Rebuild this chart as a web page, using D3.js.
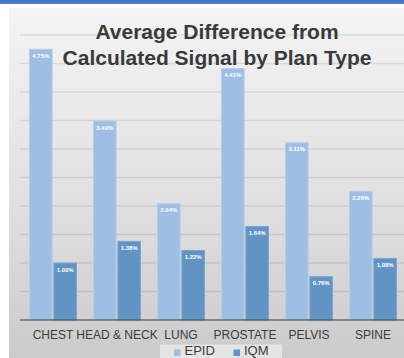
<!DOCTYPE html>
<html>
<head>
<meta charset="utf-8">
<script src="https://cdn.jsdelivr.net/npm/d3@7"></script>
<style>
  html, body { margin: 0; padding: 0; background: #ffffff; overflow: hidden; }
  svg { display: block; }
  text { font-family: "Liberation Sans", Arial, Helvetica, sans-serif; }
</style>
</head>
<body>
<svg id="chart" width="404" height="358"></svg>
<script>
// Plan types along the x axis
const categories = ["CHEST", "HEAD & NECK", "LUNG", "PROSTATE", "PELVIS", "SPINE"];
// Average difference from calculated signal, in percent
const epidValues = [4.75, 3.49, 2.04, 4.41, 3.11, 2.26];
const iqmValues = [1.00, 1.38, 1.22, 1.64, 0.76, 1.08];
const seriesNames = ["EPID", "IQM"];
const gridTicks = [0.5, 1, 1.5, 2, 2.5, 3, 3.5, 4, 4.5, 5];
const titleLines = ["Average Difference from", "Calculated Signal by Plan Type"];

const colors = { EPID: "#9fbee4", IQM: "#6294c3" };
const strokes = { EPID: "#b4cdee", IQM: "#7aa7d3" };

const svg = d3.select("#chart");
const W = 404, H = 358;

const defs = svg.append("defs");
const bg = defs.append("linearGradient").attr("id", "panelBg")
  .attr("x1", 0).attr("y1", 0).attr("x2", 0).attr("y2", 1);
bg.append("stop").attr("offset", "0%").attr("stop-color", "#f4f4f4");
bg.append("stop").attr("offset", "55%").attr("stop-color", "#e0e0e0");
bg.append("stop").attr("offset", "100%").attr("stop-color", "#cbcbcb");

const topBar = defs.append("linearGradient").attr("id", "topBar")
  .attr("x1", 0).attr("y1", 0).attr("x2", 0).attr("y2", 1);
topBar.append("stop").attr("offset", "0%").attr("stop-color", "#3f6fc4");
topBar.append("stop").attr("offset", "100%").attr("stop-color", "#5b86d0");

// Slide header strip and chart panel
svg.append("rect").attr("x", 0).attr("y", 0).attr("width", W).attr("height", 4)
  .attr("fill", "url(#topBar)");
svg.append("rect").attr("x", 9).attr("y", 8).attr("width", W - 9).attr("height", H - 8)
  .attr("fill", "url(#panelBg)");

// Scales
const x = d3.scaleBand().domain(categories).range([21, 405])
  .paddingInner(0.25).paddingOuter(0.125);
const xSub = d3.scaleBand().domain(seriesNames).range([0, x.bandwidth()]).paddingInner(0.03);
const y = d3.scaleLinear().domain([0, 5]).range([320, 35]);

// Gridlines
svg.append("g").selectAll("line").data(gridTicks).join("line")
  .attr("x1", 20).attr("x2", W)
  .attr("y1", d => y(d)).attr("y2", d => y(d))
  .attr("stroke", "#000").attr("stroke-opacity", 0.09).attr("stroke-width", 1.5);

// Title
svg.append("g").selectAll("text").data(titleLines).join("text")
  .attr("x", 217).attr("y", (d, i) => 38.5 + i * 26.5)
  .attr("text-anchor", "middle")
  .attr("font-size", 21).attr("font-weight", "bold").attr("fill", "#3a3a3a")
  .text(d => d);

// Bars
const rows = categories.map((c, i) => ({ cat: c, EPID: epidValues[i], IQM: iqmValues[i] }));
const groups = svg.append("g").selectAll("g").data(rows).join("g")
  .attr("transform", d => `translate(${x(d.cat)},0)`);

const bars = groups.selectAll("g.bar")
  .data(d => seriesNames.map(s => ({ s, v: d[s] })))
  .join("g").attr("class", "bar");

bars.append("rect")
  .attr("x", d => xSub(d.s) + 0.5)
  .attr("y", d => y(d.v))
  .attr("width", xSub.bandwidth() - 1)
  .attr("height", d => y(0) - y(d.v))
  .attr("fill", d => colors[d.s])
  .attr("stroke", d => strokes[d.s]).attr("stroke-width", 1);

bars.append("text")
  .attr("x", d => xSub(d.s) + xSub.bandwidth() / 2)
  .attr("y", d => y(d.v) + 8.5)
  .attr("text-anchor", "middle")
  .attr("font-size", 6).attr("font-weight", "bold").attr("fill", "#ffffff")
  .text(d => d.v.toFixed(2) + "%");

// Baseline axis
const xAxis = svg.append("g").attr("transform", `translate(0,${y(0)})`)
  .call(d3.axisBottom(x).tickSize(0).tickPadding(10));
xAxis.select(".domain").attr("d", `M20,0H${W}`).attr("stroke", "#3a3a3a").attr("stroke-width", 1.2);
xAxis.selectAll(".tick text")
  .attr("font-family", "'Liberation Sans', Arial, Helvetica, sans-serif")
  .attr("font-size", 12).attr("fill", "#3d3d3d");

// Legend
const legend = svg.append("g");
legend.append("rect").attr("x", 160).attr("y", 344.5).attr("width", 122).attr("height", 13.5)
  .attr("fill", "#e4e4e4");
const legendX = [174, 233.5];
const items = legend.selectAll("g").data(seriesNames).join("g")
  .attr("transform", (d, i) => `translate(${legendX[i]},0)`);
items.append("rect").attr("x", 0).attr("y", 349.5).attr("width", 6.5).attr("height", 6.5)
  .attr("fill", d => colors[d]);
items.append("text").attr("x", 10.5).attr("y", 355.2)
  .attr("font-size", 13).attr("fill", "#3d3d3d")
  .text(d => d);
</script>
</body>
</html>
